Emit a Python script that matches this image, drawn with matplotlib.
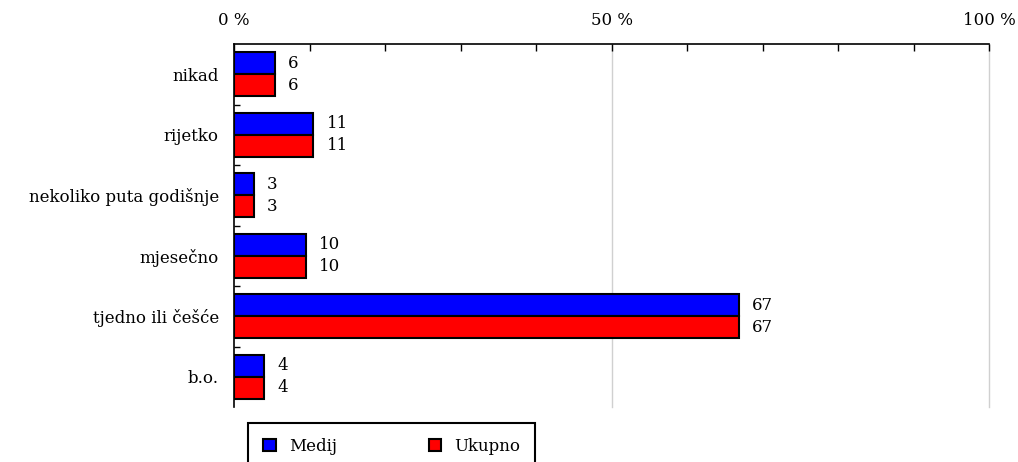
import matplotlib.pyplot as plt
import numpy as np

plt.rcParams["font.family"] = ["DejaVu Serif"]
plt.rcParams["font.size"] = 12

categories = ["nikad", "rijetko", "nekoliko puta godišnje", "mjesečno",
              "tjedno ili češće", "b.o."]
# bar lengths as drawn, and the labels printed next to them
medij = [5.4, 10.5, 2.6, 9.5, 66.9, 4.0]
ukupno = [5.4, 10.5, 2.6, 9.5, 66.9, 4.0]
medij_labels = ["6", "11", "3", "10", "67", "4"]
ukupno_labels = ["6", "11", "3", "10", "67", "4"]

fig = plt.figure(figsize=(10.18, 4.62), dpi=100)
ax = fig.add_axes([0.2299, 0.119, 0.7417, 0.7857])

y = np.arange(len(categories))
h = 0.36
ax.barh(y - h / 2, medij, height=h, color="#0000ff", edgecolor="black", linewidth=1.5, label="Medij")
ax.barh(y + h / 2, ukupno, height=h, color="#ff0000", edgecolor="black", linewidth=1.5, label="Ukupno")

for yi, v, t in zip(y, medij, medij_labels):
    ax.annotate(t, (v, yi - h / 2), xytext=(9.5, 0), textcoords="offset points",
                va="center", ha="left")
for yi, v, t in zip(y, ukupno, ukupno_labels):
    ax.annotate(t, (v, yi + h / 2), xytext=(9.5, 0), textcoords="offset points",
                va="center", ha="left")

ax.set_xlim(0, 100)
ax.set_ylim(len(categories) - 0.5, -0.5)
ax.xaxis.tick_top()
ax.set_xticks([0, 50, 100])
ax.set_xticklabels(["0 %", "50 %", "100 %"])
ax.set_xticks(np.arange(0, 101, 10), minor=True)
ax.tick_params(axis="x", which="both", direction="in", length=5, width=1, top=True, bottom=False, pad=11)
ax.set_yticks(y)
ax.set_yticklabels(categories)
ax.set_yticks(np.arange(0.5, len(categories) - 1, 1), minor=True)
ax.tick_params(axis="y", which="major", length=0, pad=11)
ax.tick_params(axis="y", which="minor", direction="in", length=4, width=1)
for x in [50, 100]:
    ax.axvline(x, color="#d0d0d0", linewidth=1, zorder=0, clip_on=False)
ax.spines["right"].set_visible(False)
ax.spines["bottom"].set_visible(False)
ax.spines["top"].set_linewidth(1.2)
ax.spines["left"].set_linewidth(1.2)

leg = fig.legend(loc="upper left", bbox_to_anchor=(248 / 1018, 1 - 423 / 462), ncol=2,
                 frameon=True, fancybox=False, edgecolor="black", handlelength=0.75, handleheight=0.75,
                 handletextpad=0.8, columnspacing=5.5, borderpad=0.9, borderaxespad=0, framealpha=1)
leg.get_frame().set_linewidth(1.5)

fig.savefig("out.png", dpi=100)
